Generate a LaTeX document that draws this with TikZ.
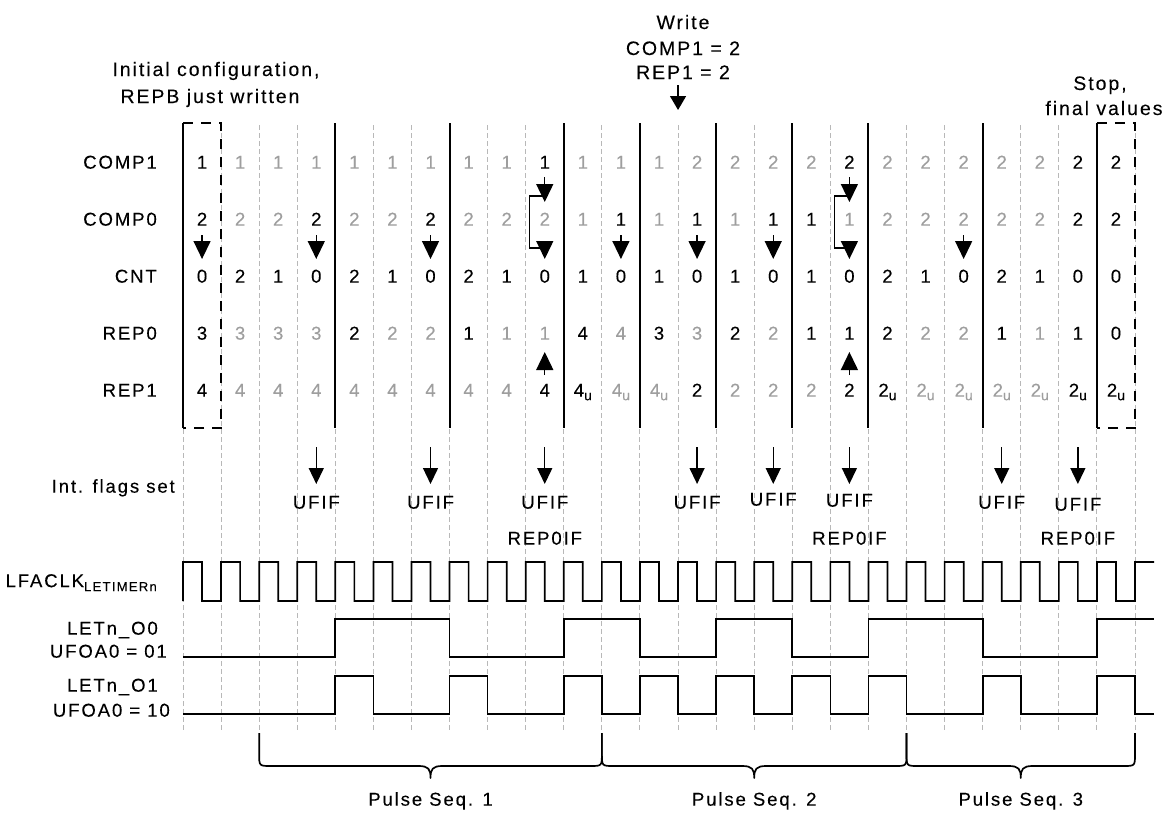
\documentclass[tikz,border=0pt]{standalone}
\usepackage{fontspec}
\setmainfont{Liberation Sans}[LetterSpace=10,FakeBold=0.12]
\usetikzlibrary{arrows.meta,calc}
\definecolor{G}{gray}{0.62}
\definecolor{K}{gray}{0}
\definecolor{dl}{gray}{0.72}
\newcommand\lblsize{\fontsize{18.6}{21}\selectfont}
\newcommand\annsize{\fontsize{19.5}{22}\selectfont}
\newcommand\subu{\raisebox{-3.5pt}{\fontsize{14}{14}\selectfont u}}
\begin{document}
\begin{tikzpicture}[x=1pt,y=-1pt,
 txt/.style={inner sep=0pt,text height=13.3pt,text depth=0pt,font=\lblsize},
 ann/.style={inner sep=0pt,text height=14pt,text depth=0pt,font=\annsize},
 rowlbl/.style={txt,anchor=east},
 griddash/.style={draw=dl,line width=1pt,dash pattern=on 5pt off 3pt},
 bound/.style={line width=2pt},
 boxdash/.style={line width=2pt,dash pattern=on 10pt off 8pt},
 wave/.style={line width=1.7pt,line join=miter},
 arr/.style={line width=1.4pt,-{Triangle[length=18pt,width=17pt]}},
 flagarr/.style={line width=1.4pt,-{Triangle[length=16pt,width=15pt]}},
 brk/.style={line width=1.4pt},
]
\useasboundingbox (0,0) rectangle (1170,812);

% gray dashed guide lines
\foreach \k in {0,...,25}
  \draw[griddash] ({183+38.08*\k},125) -- ({183+38.08*\k},732);

% solid boundaries
\foreach \k in {4,7,10,12,14,16,18,21}
  \draw[bound] ({183+38.08*\k},123) -- ({183+38.08*\k},428);

% boxes
\draw[boxdash] (183,123) -- (221.08,123) -- (221.08,428) -- (183,428);
\draw[bound] (183,123) -- (183,428);
\draw[boxdash] (1096.92,123) -- (1135,123) -- (1135,428) -- (1096.92,428);
\draw[bound] (1096.92,123) -- (1096.92,428);

% row labels
\node[rowlbl] (lcomp1) at (157,162) {COMP1};
\node[rowlbl] (lcomp0) at (157,219) {COMP0};
\node[rowlbl] (lcnt) at (157,276) {CNT};
\node[rowlbl] (lrep0) at (157,333) {REP0};
\node[rowlbl] (lrep1) at (157,390) {REP1};
\node[rowlbl] (lflags) at (175,486) {Int. flags set};
\node[rowlbl] (lclk) at (157,580.5) {LFACLK\raisebox{-4pt}{\fontsize{13}{13}\selectfont LETIMERn}};
\node[rowlbl] (lo0a) at (158,628) {LETn\_O0};
\node[rowlbl] (lo0b) at (167,651) {UFOA0 = 01};
\node[rowlbl] (lo1a) at (158,685) {LETn\_O1};
\node[rowlbl] (lo1b) at (170,710) {UFOA0 = 10};

% cell values
\foreach \v/\c [count=\i from 0] in {1/K,1/G,1/G,1/G,1/G,1/G,1/G,1/G,1/G,1/K,1/G,1/G,1/G,2/G,2/G,2/G,2/G,2/K,2/G,2/G,2/G,2/G,2/G,2/K,2/K}
  \node[txt,text=\c] (comp1-\i) at ({202.04+38.08*\i},162) {\v};
\foreach \v/\c [count=\i from 0] in {2/K,2/G,2/G,2/K,2/G,2/G,2/K,2/G,2/G,2/G,1/G,1/K,1/G,1/K,1/G,1/K,1/K,1/G,2/G,2/G,2/G,2/G,2/G,2/K,2/K}
  \node[txt,text=\c] (comp0-\i) at ({202.04+38.08*\i},219) {\v};
\foreach \v [count=\i from 0] in {0,2,1,0,2,1,0,2,1,0,1,0,1,0,1,0,1,0,2,1,0,2,1,0,0}
  \node[txt] (cnt-\i) at ({202.04+38.08*\i},276) {\v};
\foreach \v/\c [count=\i from 0] in {3/K,3/G,3/G,3/G,2/K,2/G,2/G,1/K,1/G,1/G,4/K,4/G,3/K,3/G,2/K,2/G,1/K,1/K,2/K,2/G,2/G,1/K,1/G,1/K,0/K}
  \node[txt,text=\c] (rep0-\i) at ({202.04+38.08*\i},333) {\v};
\foreach \v/\c [count=\i from 0] in {4/K,4/G,4/G,4/G,4/G,4/G,4/G,4/G,4/G,4/K,4\subu/K,4\subu/G,4\subu/G,2/K,2/G,2/G,2/G,2/K,2\subu/K,2\subu/G,2\subu/G,2\subu/G,2\subu/G,2\subu/K,2\subu/K}
  \node[txt,text=\c] (rep1-\i) at ({202.04+38.08*\i},390) {\v};

% COMP0 -> CNT arrows
\foreach \i in {0,3,6,11,13,15,20}
  \draw[arr] ([yshift=-16pt]comp0-\i.center) -- ([yshift=17pt]cnt-\i.center);

% bracket arrows (COMP1 -> COMP0 -> CNT) and REP1 -> REP0
\foreach \i in {9,17} {
  \draw[arr] ([yshift=-15pt]comp1-\i.center) -- ([yshift=17pt]comp0-\i.center);
  \draw[brk,-{Triangle[length=18pt,width=17pt]}] ([yshift=-34pt]comp1-\i.center) -- ++(-15pt,0pt) |- ([yshift=28pt]cnt-\i.center) -- ([yshift=17pt]cnt-\i.center);
  \draw[arr] ([yshift=15pt]rep1-\i.center) -- ([yshift=-19pt]rep0-\i.center);
}

% interrupt flags
\foreach \i/\yy in {3/502,6/502,9/502,13/502,15/499,17/500,21/502,23/504} {
  \coordinate (uf-\i) at ({202.04+38.08*\i},447);
  \node[txt] (ufif-\i) at ({202.04+38.08*\i},\yy) {UFIF};
  \draw[flagarr] (uf-\i) -- ({202.04+38.08*\i},484);
}
\foreach \i in {9,17,23}
  \node[txt] (rep0if-\i) at ({202.04+38.08*\i},538) {REP0IF};

% top annotations
\node[ann] (init1) at (216,69) {Initial configuration,};
\node[ann] (init2) at (210,96) {REPB just written};
\node[ann] (w1) at (683,22) {Write};
\node[ann] (w2) at (683,48) {COMP1 = 2};
\node[ann] (w3) at (683,72) {REP1 = 2};
\coordinate (wtop) at (678.04,85);
\coordinate (wtip) at (678.04,110);
\draw[line width=1.4pt,-{Triangle[length=14pt,width=16pt]}] (wtop) -- (wtip);
\node[ann] (stop1) at (1100,83) {Stop,};
\node[ann] (stop2) at (1104,108) {final values};

% clock
\draw[wave] (183,601) \foreach \k in {0,...,24} { -- ({183+38.08*\k},562) -- ({202.04+38.08*\k},562) -- ({202.04+38.08*\k},601) -- ({221.08+38.08*\k},601) } -- (1135,562) -- (1154,562);

% LETn_O0
\draw[wave] (183,657) -- (335.32,657) -- (335.32,619) -- (449.56,619) -- (449.56,657) -- (563.8,657) -- (563.8,619) -- (639.96,619) -- (639.96,657) -- (716.12,657) -- (716.12,619) -- (792.28,619) -- (792.28,657) -- (868.44,657) -- (868.44,619) -- (982.68,619) -- (982.68,657) -- (1096.92,657) -- (1096.92,619) -- (1154,619);

% LETn_O1
\draw[wave] (183,714) \foreach \k in {4,7,10,12,14,16,18,21,24} { -- ({183+38.08*\k},714) -- ({183+38.08*\k},676) -- ({221.08+38.08*\k},676) -- ({221.08+38.08*\k},714) } -- (1154,714);

% braces
\foreach \xa/\xb/\n in {259.16/601.88/1,601.88/906.52/2,906.52/1135/3} {
  \pgfmathsetmacro\m{(\xa+\xb)/2}
  \draw[wave,line join=round] (\xa,733) -- (\xa,754) .. controls (\xa,766) .. (\xa+12,766) -- (\m-12,766) .. controls (\m-2,766) and (\m,769) .. (\m,778) .. controls (\m,769) and (\m+2,766) .. (\m+12,766) -- (\xb-12,766) .. controls (\xb,766) .. (\xb,754) -- (\xb,733);
  \node[txt] (ps-\n) at (\m,799) {Pulse Seq. \n};
}
\end{tikzpicture}
\end{document}
